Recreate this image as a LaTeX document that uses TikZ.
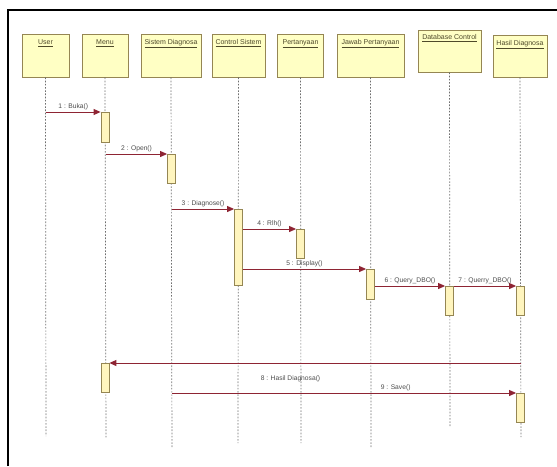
\documentclass[tikz,border=0pt]{standalone}
\usepackage{fontspec}
\setmainfont{Liberation Sans}
\usetikzlibrary{arrows.meta}
\definecolor{objfill}{HTML}{FFFFC4}
\definecolor{objline}{HTML}{958653}
\definecolor{actfill}{HTML}{FFF5BE}
\definecolor{msgline}{HTML}{8E2433}
\definecolor{objtext}{HTML}{4F4A2A}
\definecolor{lifeline}{HTML}{6E6E6E}
\tikzset{
  objbox/.style={draw=objline, fill=objfill, line width=0.9pt, inner sep=0pt},
  objname/.style={font=\fontsize{7}{8}\selectfont, text=objtext, anchor=north, inner sep=0pt},
  actbox/.style={draw=objline, fill=actfill, line width=0.8pt, minimum width=8pt, inner sep=0pt, anchor=north},
  life/.style={draw=lifeline, line width=0.7pt, dash pattern=on 1.6pt off 1.6pt},
  msg/.style={draw=msgline, line width=0.9pt, -{Triangle[length=7pt,width=6pt]}},
  msglabel/.style={font=\fontsize{6.7}{8}\selectfont, text=black!70, inner sep=1.5pt},
  frameline/.style={draw=black, line width=2pt}
}
\begin{document}
\begin{tikzpicture}[x=1pt,y=-1pt]
\useasboundingbox (0,0) rectangle (557,466);

% outer frame
\coordinate (fbl) at (7.5,466);
\coordinate (ftl) at (7.5,9.5);
\coordinate (ftr) at (557,9.5);
\draw[frameline] (fbl) -- (ftl) -- (ftr);

% object headers
\node[objbox, minimum width=47pt, minimum height=43pt] (user) at (45.5,55.5) {};
\node[objbox, minimum width=46pt, minimum height=43pt] (menu) at (105,55.5) {};
\node[objbox, minimum width=60pt, minimum height=43pt] (sist) at (171,55.5) {};
\node[objbox, minimum width=53pt, minimum height=43pt] (ctrl) at (238.5,55.5) {};
\node[objbox, minimum width=46pt, minimum height=43pt] (pert) at (300.5,55.5) {};
\node[objbox, minimum width=67pt, minimum height=43pt] (jawab) at (370.5,55.5) {};
\node[objbox, minimum width=63pt, minimum height=42pt] (dbc) at (449.5,51) {};
\node[objbox, minimum width=54pt, minimum height=42pt] (hasil) at (520,56) {};

\node[objname] (tuser) at ([yshift=-6pt]user.north) {\underline{User}};
\node[objname] (tmenu) at ([yshift=-6pt]menu.north) {\underline{Menu}};
\node[objname] (tsist) at ([yshift=-6pt]sist.north) {\underline{Sistem Diagnosa}};
\node[objname] (tctrl) at ([yshift=-6pt]ctrl.north) {\underline{Control Sistem}};
\node[objname] (tpert) at ([yshift=-6pt]pert.north) {\underline{Pertanyaan}};
\node[objname] (tjawab) at ([yshift=-6pt]jawab.north) {\underline{Jawab Pertanyaan}};
\node[objname] (tdbc) at ([yshift=-5pt]dbc.north) {\underline{Database Control}};
\node[objname] (thasil) at ([yshift=-6pt]hasil.north) {\underline{Hasil Diagnosa}};

% lifeline ends
\coordinate (euser) at (46,436);
\coordinate (emenu) at (106,438);
\coordinate (esist) at (172,447);
\coordinate (ectrl) at (238,443);
\coordinate (epert) at (301,443);
\coordinate (ejawab) at (371,447);
\coordinate (edbc) at (450,427);
\coordinate (ehasil) at (521,437);

\draw[life] (user.south) -- (euser);
\draw[life] (menu.south) -- (emenu);
\draw[life] (sist.south) -- (esist);
\draw[life] (ctrl.south) -- (ectrl);
\draw[life] (pert.south) -- (epert);
\draw[life] (jawab.south) -- (ejawab);
\draw[life] (dbc.south) -- (edbc);
\draw[life] (hasil.south) -- (ehasil);

% activation bars
\node[actbox, minimum height=30pt] (amenu1) at (105,112) {};
\node[actbox, minimum height=29pt] (asist) at (171.5,154) {};
\node[actbox, minimum height=76pt] (actrl) at (238.5,209) {};
\node[actbox, minimum height=29pt] (apert) at (300.5,229) {};
\node[actbox, minimum height=30pt] (ajawab) at (370.5,269) {};
\node[actbox, minimum height=29pt] (adbc) at (449.5,286) {};
\node[actbox, minimum height=29pt] (ahasil1) at (520.5,286) {};
\node[actbox, minimum height=29pt] (amenu2) at (105,363) {};
\node[actbox, minimum height=29pt] (ahasil2) at (520.5,393) {};

% message sources on lifelines
\coordinate (s1) at (46,112);
\coordinate (s2) at (106,154);
\coordinate (s3) at (172,209);
\coordinate (s8) at (521,363);
\coordinate (s9) at (172,393);

% messages
\draw[msg] (s1) -- node[msglabel, above] (l1) {1 : Buka()} (amenu1.north west);
\draw[msg] (s2) -- node[msglabel, above] (l2) {2 : Open()} (asist.north west);
\draw[msg] (s3) -- node[msglabel, above] (l3) {3 : Diagnose()} (actrl.north west);
\draw[msg] (actrl.east |- apert.north) -- node[msglabel, above] (l4) {4 : Rlh()} (apert.north west);
\draw[msg] (actrl.east |- ajawab.north) -- node[msglabel, above] (l5) {5 : Display()} (ajawab.north west);
\draw[msg] (ajawab.east |- adbc.north) -- node[msglabel, above] (l6) {6 : Query\_DBO()} (adbc.north west);
\draw[msg] (adbc.north east) -- node[msglabel, above] (l7) {7 : Querry\_DBO()} (ahasil1.north west);
\draw[msg] (s8) -- node[msglabel, below, pos=0.56, yshift=-11pt] (l8) {8 : Hasil Diagnosa()} (amenu2.north east);
\draw[msg] (s9) -- node[msglabel, above, pos=0.65] (l9) {9 : Save()} (ahasil2.north west);
\end{tikzpicture}
\end{document}
